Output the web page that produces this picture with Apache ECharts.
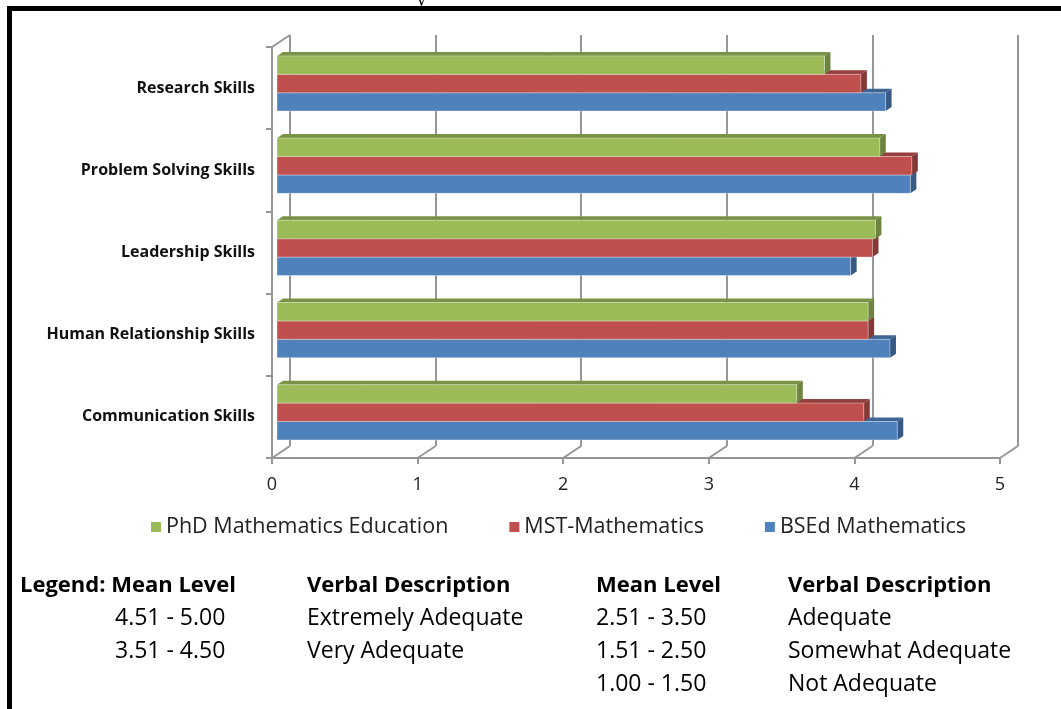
<!DOCTYPE html>
<html>
<head>
<meta charset="utf-8">
<title>Skills chart</title>
<script src="https://cdn.jsdelivr.net/npm/echarts@6/dist/echarts.min.js"></script>
<style>
  html, body { margin: 0; padding: 0; background: #fff; }
  #main { width: 1061px; height: 709px; }
</style>
</head>
<body>
<div id="main"></div>
<script>
var categories = ['Research Skills', 'Problem Solving Skills', 'Leadership Skills', 'Human Relationship Skills', 'Communication Skills'];
var phdValues = [3.76, 4.14, 4.11, 4.06, 3.57];
var mstValues = [4.01, 4.36, 4.09, 4.06, 4.03];
var bsedValues = [4.18, 4.35, 3.94, 4.21, 4.26];
var xTicks = [0, 1, 2, 3, 4, 5];

var tableHead = ['Legend: Mean Level', 'Verbal Description', 'Mean Level', 'Verbal Description'];
var leftLevels = ['4.51 - 5.00', '3.51 - 4.50'];
var leftDesc = ['Extremely Adequate', 'Very Adequate'];
var rightLevels = ['2.51 - 3.50', '1.51 - 2.50', '1.00 - 1.50'];
var rightDesc = ['Adequate', 'Somewhat Adequate', 'Not Adequate'];

var chart = echarts.init(document.getElementById('main'));

// depth of the 3d box and of one bar
var DX = 18, DY = -12;
var BX = 6, BY = -4;
var FONT = '"Open Sans", Lato, sans-serif';
var GREEN = '#9BBB59', RED = '#C0504D', BLUE = '#4F81BD';

function shade(hex, k) {
  var n = parseInt(hex.slice(1), 16);
  var r = Math.round(((n >> 16) & 255) * k), g = Math.round(((n >> 8) & 255) * k), b = Math.round((n & 255) * k);
  return 'rgb(' + r + ',' + g + ',' + b + ')';
}

function barRender(slot, color) {
  return function (params, api) {
    var v = api.value(0), c = api.value(1);
    var base = api.coord([0, c]);
    var end = api.coord([v, c]);
    var band = api.size([0, 1])[1];
    var h = band * 0.224;
    var top = base[1] - 4.6 - 1.5 * h + slot * h;
    var bot = top + h;
    var x0 = base[0] + 5, x1 = end[0] + 5;
    return {
      type: 'group',
      children: [{
        type: 'polygon',
        shape: { points: [[x0, top], [x1, top], [x1 + BX, top + BY], [x0 + BX, top + BY]] },
        style: { fill: shade(color, 0.78) }
      }, {
        type: 'polygon',
        shape: { points: [[x1, top], [x1 + BX, top + BY], [x1 + BX, bot + BY], [x1, bot]] },
        style: { fill: shade(color, 0.7) }
      }, {
        type: 'rect',
        shape: { x: x0, y: top, width: x1 - x0, height: h },
        style: { fill: color, stroke: 'rgba(255,255,255,0.35)', lineWidth: 1 }
      }]
    };
  };
}

function pairs(vals) {
  return vals.map(function (v, i) { return [v, i]; });
}

// floor edges from front ticks to back wall
function floorRender(params, api) {
  var p = api.coord([api.value(0), categories.length - 1]);
  var band = api.size([0, 1])[1];
  var y = p[1] + band / 2;
  return {
    type: 'line',
    shape: { x1: p[0], y1: y, x2: p[0] + DX, y2: y + DY },
    style: { stroke: '#969696', lineWidth: 2 }
  };
}

var graphics = [{
  type: 'polyline',
  shape: { points: [[9.5, 712], [9.5, 8.5], [1070, 8.5]] },
  style: { stroke: '#000', lineWidth: 5, fill: null }
}, {
  type: 'text', left: 417, top: -7,
  style: { text: 'y', font: '16px "DejaVu Serif", serif', fill: '#000' },
  z: -1
}, {
  type: 'line',
  shape: { x1: 272, y1: 47, x2: 272 + DX, y2: 47 + DY },
  style: { stroke: '#969696', lineWidth: 2 }
}];

var colX = [20, 307, 596, 788];
var rowY = [586, 618, 651, 684];
function addText(str, x, y, bold) {
  graphics.push({
    type: 'text', x: x, y: y,
    style: { text: str, font: (bold ? 'bold 22px ' : '23px ') + FONT, fill: '#000', verticalAlign: 'middle' }
  });
}
tableHead.forEach(function (t, i) { addText(t, colX[i], rowY[0], true); });
leftLevels.forEach(function (t, i) { addText(t, 115, rowY[i + 1]); });
leftDesc.forEach(function (t, i) { addText(t, colX[1], rowY[i + 1]); });
rightLevels.forEach(function (t, i) { addText(t, colX[2], rowY[i + 1]); });
rightDesc.forEach(function (t, i) { addText(t, colX[3], rowY[i + 1]); });

option = {
  animation: false,
  textStyle: { fontFamily: FONT },
  grid: [
    { left: 272, top: 47, width: 728, height: 411 },
    { left: 272 + DX, top: 47 + DY, width: 728, height: 411 }
  ],
  legend: {
    left: 146,
    top: 511,
    itemWidth: 10,
    itemHeight: 10,
    itemGap: 61,
    icon: 'rect',
    textStyle: { fontSize: 21.5, color: '#222', fontFamily: FONT },
    data: ['PhD Mathematics Education', 'MST-Mathematics', 'BSEd Mathematics']
  },
  xAxis: [{
    gridIndex: 0,
    type: 'value',
    min: 0, max: 5, interval: 1,
    axisLine: { show: true, lineStyle: { color: '#969696', width: 2 } },
    axisTick: { show: true, length: 6, lineStyle: { color: '#969696', width: 2 } },
    axisLabel: { fontSize: 18, color: '#222', margin: 18 },
    splitLine: { show: false }
  }, {
    gridIndex: 1,
    type: 'value',
    min: 0, max: 5, interval: 1,
    axisLine: { show: false },
    axisTick: { show: false },
    axisLabel: { show: false },
    splitLine: { show: true, lineStyle: { color: '#969696', width: 2 } }
  }],
  yAxis: [{
    gridIndex: 0,
    type: 'category',
    inverse: true,
    data: categories,
    axisLine: { show: true, lineStyle: { color: '#969696', width: 2 } },
    axisTick: { show: true, length: 6, lineStyle: { color: '#969696', width: 2 } },
    axisLabel: { fontSize: 16, fontWeight: 'bold', color: '#111', margin: 17 }
  }, {
    gridIndex: 1,
    type: 'category',
    inverse: true,
    data: categories,
    show: false
  }],
  series: [{
    name: 'floor',
    type: 'custom',
    xAxisIndex: 0, yAxisIndex: 0,
    data: xTicks.map(function (t) { return [t, 0]; }),
    renderItem: floorRender,
    silent: true,
    z: 1
  }, {
    name: 'BSEd Mathematics',
    type: 'custom',
    xAxisIndex: 0, yAxisIndex: 0,
    itemStyle: { color: BLUE },
    data: pairs(bsedValues),
    renderItem: barRender(2, BLUE),
    encode: { x: 0, y: 1 },
    z: 2
  }, {
    name: 'MST-Mathematics',
    type: 'custom',
    xAxisIndex: 0, yAxisIndex: 0,
    itemStyle: { color: RED },
    data: pairs(mstValues),
    renderItem: barRender(1, RED),
    encode: { x: 0, y: 1 },
    z: 3
  }, {
    name: 'PhD Mathematics Education',
    type: 'custom',
    xAxisIndex: 0, yAxisIndex: 0,
    itemStyle: { color: GREEN },
    data: pairs(phdValues),
    renderItem: barRender(0, GREEN),
    encode: { x: 0, y: 1 },
    z: 4
  }],
  graphic: graphics
};
chart.setOption(option);
</script>
</body>
</html>
